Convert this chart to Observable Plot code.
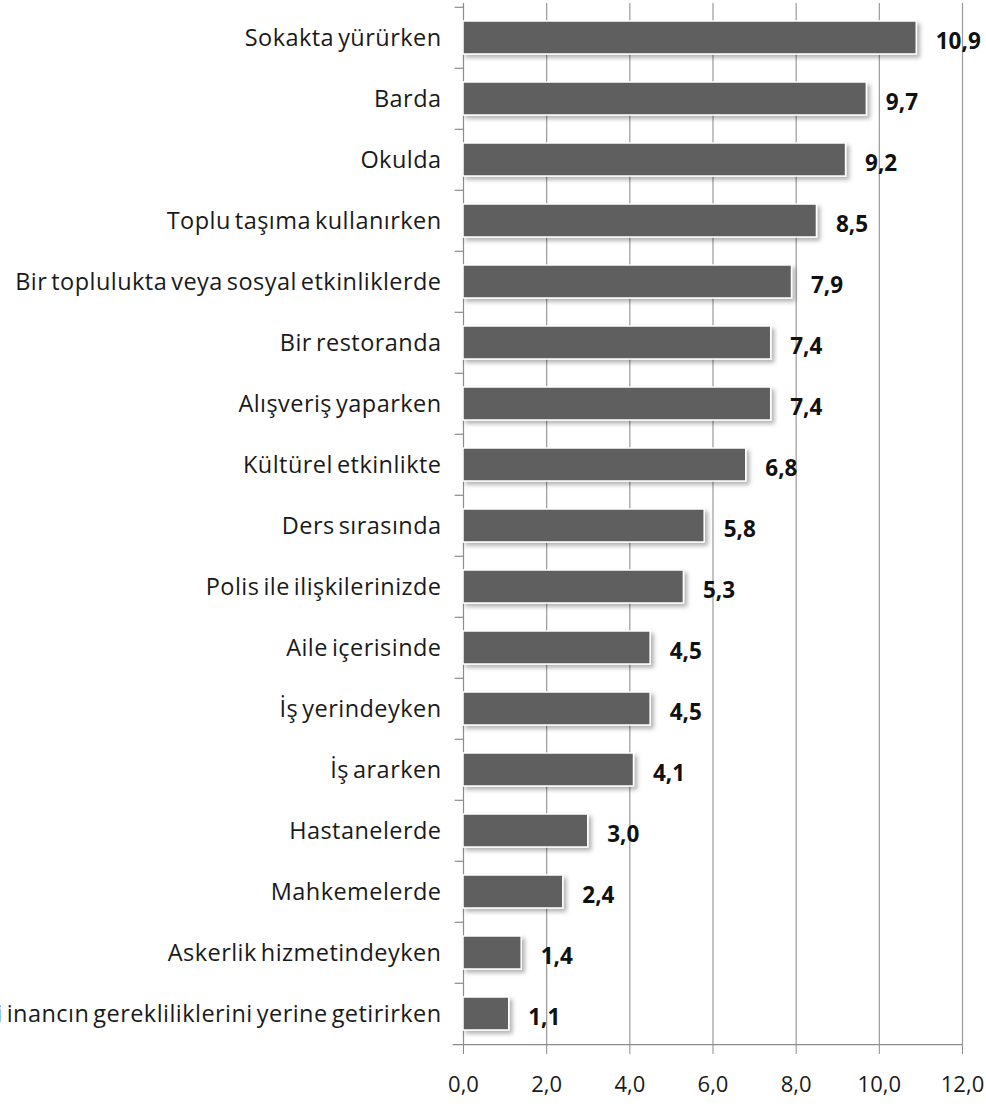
<!DOCTYPE html>
<html>
<head>
<meta charset="utf-8">
<script src="https://cdn.jsdelivr.net/npm/d3@7"></script>
<script src="https://cdn.jsdelivr.net/npm/@observablehq/plot@0.6"></script>
<style>
  html, body { margin: 0; padding: 0; background: #fff; }
  #chart { width: 986px; height: 1107px; }
  svg { font-family: "Open Sans", Lato, sans-serif; }
  g.ylabels text { word-spacing: -2.5px; letter-spacing: 0.45px; }
</style>
</head>
<body>
<div id="chart"></div>
<script>
const categories = [
  "Sokakta yürürken",
  "Barda",
  "Okulda",
  "Toplu taşıma kullanırken",
  "Bir toplulukta veya sosyal etkinliklerde",
  "Bir restoranda",
  "Alışveriş yaparken",
  "Kültürel etkinlikte",
  "Ders sırasında",
  "Polis ile ilişkilerinizde",
  "Aile içerisinde",
  "İş yerindeyken",
  "İş ararken",
  "Hastanelerde",
  "Mahkemelerde",
  "Askerlik hizmetindeyken",
  "Dini inancın gerekliliklerini yerine getirirken"
];
const values = [10.9, 9.7, 9.2, 8.5, 7.9, 7.4, 7.4, 6.8, 5.8, 5.3, 4.5, 4.5, 4.1, 3.0, 2.4, 1.4, 1.1];
const xTicks = [0, 2, 4, 6, 8, 10, 12];
const gridTicks = [2, 4, 6, 8, 10, 12];

const data = categories.map((c, i) => ({category: c, value: values[i]}));
const fmt = d => d.toFixed(1).replace(".", ",");

const W = 986, H = 1107;
const mTop = 3, mBottom = 60, mLeft = 463, mRight = 24;
const step = (H - mTop - mBottom) / categories.length;

const chart = Plot.plot({
  width: W,
  height: H,
  marginTop: mTop,
  marginBottom: mBottom,
  marginLeft: mLeft,
  marginRight: mRight,
  style: {fontFamily: "'Open Sans', Lato, sans-serif", background: "#fff", overflow: "hidden"},
  x: {domain: [0, 12]},
  y: {domain: categories, paddingInner: 0.46, paddingOuter: 0.23},
  marks: [
    Plot.ruleX(gridTicks, {stroke: "#9a9a9a", strokeWidth: 1.2, strokeOpacity: 1}),
    Plot.ruleX([0], {stroke: "#8c8c8c", strokeWidth: 1.2}),
    Plot.ruleY(categories, {y: d => d, x1: -0.2, x2: 0, dy: -step / 2, stroke: "#8c8c8c", strokeWidth: 1.2}),
    Plot.ruleY([categories[categories.length - 1]], {y: d => d, x1: -0.25, x2: 12, dy: step / 2, stroke: "#8c8c8c", strokeWidth: 1.2}),
    Plot.barX(data, {x: "value", y: "category", fill: "#5f5f5f", stroke: "#ffffff", strokeWidth: 1.5}),
    Plot.text(data, {x: "value", y: "category", text: d => fmt(d.value), textAnchor: "start", dx: 19, dy: 4, fontSize: 22.5, fontWeight: "bold", fill: "#111"}),
    Plot.axisY({tickSize: 0, tickPadding: 22, fontSize: 23.5, label: null, fill: "#1a1a1a", className: "ylabels"}),
    Plot.axisX({ticks: xTicks, tickFormat: fmt, tickSize: 7, tickPadding: 22, fontSize: 22, label: null, stroke: "#8c8c8c", fill: "#1a1a1a"})
  ]
});

// soft drop shadow on bars
const ns = "http://www.w3.org/2000/svg";
const defs = document.createElementNS(ns, "defs");
defs.innerHTML = `<filter id="shadow" x="-10%" y="-30%" width="130%" height="180%">
  <feDropShadow dx="3" dy="3" stdDeviation="2" flood-color="#000" flood-opacity="0.3"/>
</filter>`;
chart.insertBefore(defs, chart.firstChild);
const barGroup = chart.querySelector('g[aria-label="bar"]');
if (barGroup) barGroup.setAttribute("filter", "url(#shadow)");

document.getElementById("chart").appendChild(chart);
</script>
</body>
</html>
